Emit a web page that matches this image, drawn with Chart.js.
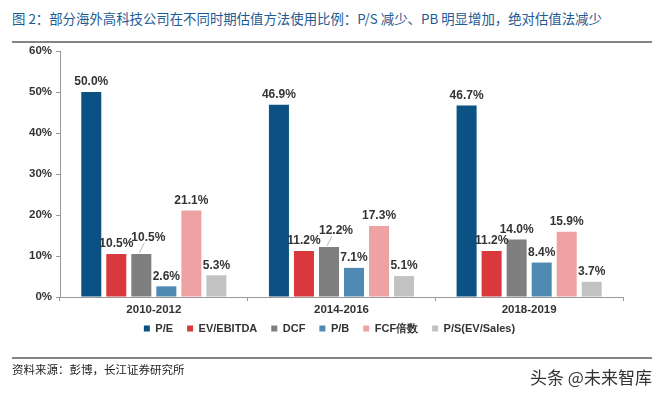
<!DOCTYPE html>
<html><head><meta charset="utf-8">
<script src="https://cdn.jsdelivr.net/npm/chart.js@4.4.1/dist/chart.umd.min.js"></script>
<style>
html,body{margin:0;padding:0;background:#fff;width:659px;height:397px;overflow:hidden;}
#wrap{position:relative;width:659px;height:397px;}
canvas{position:absolute;left:0;top:0;}
.title{position:absolute;left:12px;top:8px;font:13.4px "Noto Sans CJK SC","Liberation Sans",sans-serif;color:#1d5b94;white-space:nowrap;}
.line{position:absolute;left:12px;width:640px;height:2px;background:#848484;}
.src{position:absolute;left:12px;font:11.5px "Noto Sans CJK SC",sans-serif;color:#222;}
.wm{position:absolute;left:530px;top:364px;font:17px "Noto Sans CJK SC",sans-serif;color:#333;}
</style></head><body>
<div id="wrap">
<div class="title">图 2：部分海外高科技公司在不同时期估值方法使用比例：P/S 减少、PB 明显增加，绝对估值法减少</div>
<div class="line" style="top:41px"></div>
<canvas id="c" width="659" height="397"></canvas>
<div class="line" style="top:357px"></div>
<div class="src" style="top:361px">资料来源：彭博，长江证券研究所</div>
<div class="wm">头条 @未来智库</div>
</div>
<script>
const categories = ['2010-2012','2014-2016','2018-2019'];
const seriesNames = ['P/E','EV/EBITDA','DCF','P/B','FCF倍数','P/S(EV/Sales)'];
const pe = [50.0,46.9,46.7];
const evEbitda = [10.5,11.2,11.2];
const dcf = [10.5,12.2,14.0];
const pb = [2.6,7.1,8.4];
const fcf = [21.1,17.3,15.9];
const ps = [5.3,5.1,3.7];
const yTicks = [0,10,20,30,40,50,60];
const colors = ['#0b5184','#d9393d','#7f7f7f','#4f8ab2','#eea2a4','#c2c2c2'];
const allValues = [pe,evEbitda,dcf,pb,fcf,ps];

const labelPlugin = {
  id:'barLabels',
  afterLayout(chart){
    const lg = chart.legend;
    if (lg) { lg.top -= 8; lg.bottom -= 8; lg.left += 14; lg.right += 14; }
  },
  afterDatasetsDraw(chart){
    const ctx = chart.ctx;
    ctx.save();
    ctx.font = 'bold 12px "Liberation Sans", Arial, sans-serif';
    ctx.fillStyle = '#333';
    ctx.textAlign = 'center';
    ctx.textBaseline = 'bottom';
    chart.data.datasets.forEach((ds,di)=>{
      const meta = chart.getDatasetMeta(di);
      meta.data.forEach((bar,i)=>{
        let x = bar.x, y = bar.y - 4;
        if (di === 2 && i < 2) {
          x += 7; y -= 6;
          ctx.strokeStyle = '#bbb'; ctx.lineWidth = 1;
          ctx.beginPath(); ctx.moveTo(bar.x-2, bar.y-1); ctx.lineTo(x-4, y-1); ctx.stroke();
        }
        ctx.fillText(ds.data[i].toFixed(1)+'%', x, y);
      });
    });
    ctx.restore();
  }
};

new Chart(document.getElementById('c'), {
  type:'bar',
  data:{
    labels:categories,
    datasets: seriesNames.map((n,i)=>({label:n,data:allValues[i],backgroundColor:colors[i],borderWidth:0,
      categoryPercentage:0.8,barPercentage:0.8}))
  },
  options:{
    responsive:false,animation:false,
    layout:{padding:{left:8,right:36,top:51,bottom:45}},
    plugins:{
      legend:{position:'bottom',labels:{boxWidth:6,boxHeight:6,padding:14,color:'#333',
        font:{family:'"Liberation Sans", Arial, sans-serif',size:11,weight:'bold'}}},
      tooltip:{enabled:false}
    },
    scales:{
      x:{offset:true,
        grid:{display:true,drawOnChartArea:false,drawTicks:true,tickLength:4,offset:true,color:'#999'},
        border:{color:'#999'},
        ticks:{color:'#333',padding:2,font:{family:'"Liberation Sans", Arial, sans-serif',size:11.5,weight:'bold'}},
        afterFit(s){s.height=20;}
      },
      y:{min:0,max:60,
        afterBuildTicks(s){s.ticks = yTicks.map(v=>({value:v}));},
        grid:{display:true,drawOnChartArea:false,drawTicks:true,tickLength:4,color:'#999'},
        border:{color:'#999'},
        ticks:{color:'#333',padding:4,callback:v=>v+'%',font:{family:'"Liberation Sans", Arial, sans-serif',size:11.5,weight:'bold'}},
        afterFit(s){s.width=52;}
      }
    }
  },
  plugins:[labelPlugin]
});
</script>
</body></html>
